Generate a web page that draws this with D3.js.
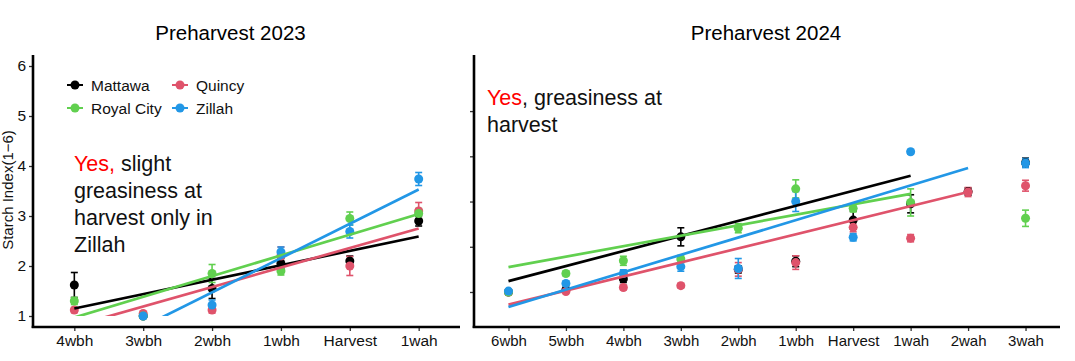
<!DOCTYPE html>
<html><head><meta charset="utf-8">
<script src="https://cdn.jsdelivr.net/npm/d3@7"></script>
<style>body{margin:0;background:#fff} svg{display:block;font-family:"Liberation Sans",Arial,sans-serif}</style>
</head><body><svg id="c" width="1075" height="361"></svg>
<script>
// ---------- data ----------
const sites = ["Mattawa", "Quincy", "Royal City", "Zillah"];
const siteColors = ["#000000", "#DF536B", "#61D04F", "#2297E6"];

const cats2023 = ["4wbh", "3wbh", "2wbh", "1wbh", "Harvest", "1wah"];
const mattawa2023 = [1.62, 1.00, 1.55, 2.05, 2.10, 2.90];
const mattawa2023se = [0.25, 0.03, 0.20, 0.10, 0.10, 0.10];
const quincy2023 = [1.12, 1.05, 1.12, 2.20, 2.00, 3.10];
const quincy2023se = [0.05, 0.04, 0.06, 0.18, 0.19, 0.17];
const royal2023 = [1.30, 1.00, 1.85, 1.90, 2.95, 3.05];
const royal2023se = [0.07, 0.03, 0.18, 0.08, 0.13, 0.10];
const zillah2023 = [null, 1.00, 1.22, 2.28, 2.69, 3.74];
const zillah2023se = [0, 0.03, 0.10, 0.10, 0.13, 0.13];
// linear fits: [start category, value, end category, value]
const fitMattawa2023 = ["4wbh", 1.15, "1wah", 2.59];
const fitQuincy2023 = ["4wbh", 0.80, "1wah", 2.75];
const fitRoyal2023 = ["4wbh", 0.97, "1wah", 3.04];
const fitZillah2023 = ["4wbh", 0.10, "1wah", 3.53];

const cats2024 = ["6wbh", "5wbh", "4wbh", "3wbh", "2wbh", "1wbh", "Harvest", "1wah", "2wah", "3wah"];
const mattawa2024 = [1.00, 1.05, 1.29, 2.22, 1.50, 1.68, 2.59, 2.95, 3.22, 3.86];
const mattawa2024se = [0.03, 0.03, 0.08, 0.20, 0.08, 0.12, 0.20, 0.20, 0.08, 0.10];
const quincy2024 = [1.00, 1.01, 1.10, 1.14, 1.50, 1.65, 2.43, 2.19, 3.21, 3.35];
const quincy2024se = [0.03, 0.03, 0.05, 0.05, 0.15, 0.15, 0.10, 0.08, 0.10, 0.12];
const royal2024 = [1.00, 1.41, 1.69, 1.73, 2.41, 3.28, 2.85, 2.98, null, 2.63];
const royal2024se = [0.03, 0.05, 0.10, 0.08, 0.10, 0.20, 0.08, 0.30, 0, 0.18];
const zillah2024 = [1.02, 1.19, 1.41, 1.56, 1.52, 3.00, 2.21, 4.10, null, 3.85];
const zillah2024se = [0.03, 0.05, 0.08, 0.10, 0.22, 0.22, 0.08, 0.05, 0, 0.10];
const fitMattawa2024 = ["6wbh", 1.24, "1wah", 3.57];
const fitQuincy2024 = ["6wbh", 0.72, "2wah", 3.21];
const fitRoyal2024 = ["6wbh", 1.55, "1wah", 3.17];
const fitZillah2024 = ["6wbh", 0.67, "2wah", 3.74];

const yTicks2023 = [1, 2, 3, 4, 5, 6];
const yTicks2024 = [1, 2, 3, 4, 5];

// ---------- drawing ----------
const svg = d3.select("#c");
const defs = svg.append("defs");

function panel(opt) {
  const x = d3.scalePoint().domain(opt.cats).range(opt.xr).padding(0.6);
  const y = d3.scaleLinear().domain(opt.yd).range([327, 55]);
  const g = svg.append("g");

  svg.append("text").attr("x", (opt.xr[0] + opt.xr[1]) / 2 + opt.titleDx).attr("y", 40)
    .attr("text-anchor", "middle").attr("font-size", 20.5).attr("fill", "#000").text(opt.title);

  const ya = d3.axisLeft(y).tickValues(opt.yTicks).tickSize(4).tickPadding(3)
    .tickFormat(opt.yLabels ? d3.format("d") : () => "");
  const yg = g.append("g").attr("transform", `translate(${opt.xr[0]},0)`).call(ya);
  const xa = d3.axisBottom(x).tickSize(4).tickPadding(4);
  const xg = g.append("g").attr("transform", `translate(0,327)`).call(xa);
  [xg, yg].forEach(a => {
    a.select(".domain").remove();
    a.selectAll(".tick line").attr("stroke", "#333").attr("stroke-width", 1.3);
    a.selectAll("text").attr("fill", "#111").attr("font-family", '"Liberation Sans",Arial,sans-serif');
  });
  yg.selectAll("text").attr("font-size", 15.5);
  xg.selectAll("text").attr("font-size", opt.xFont);
  g.append("line").attr("x1", opt.xr[0]).attr("x2", opt.xr[0]).attr("y1", 55).attr("y2", 328)
    .attr("stroke", "#000").attr("stroke-width", 2.6);
  g.append("line").attr("x1", opt.xr[0] - 1.3).attr("x2", opt.xr[1]).attr("y1", 327).attr("y2", 327)
    .attr("stroke", "#000").attr("stroke-width", 2.6);

  opt.series.forEach((s, i) => {
    const col = siteColors[i];
    s.vals.forEach((v, j) => {
      if (v == null) return;
      const cx = x(opt.cats[j]), se = s.se[j];
      if (se > 0.04) {
        const y1 = y(v - se), y2 = y(v + se);
        g.append("line").attr("x1", cx).attr("x2", cx).attr("y1", y1).attr("y2", y2)
          .attr("stroke", col).attr("stroke-width", 1.6);
        [y1, y2].forEach(yy => g.append("line").attr("x1", cx - 3.5).attr("x2", cx + 3.5)
          .attr("y1", yy).attr("y2", yy).attr("stroke", col).attr("stroke-width", 1.6));
      }
    });
  });
  opt.series.forEach((s, i) => {
    const col = siteColors[i];
    s.vals.forEach((v, j) => {
      if (v == null) return;
      g.append("circle").attr("cx", x(opt.cats[j])).attr("cy", y(v)).attr("r", 4.5).attr("fill", col);
    });
  });
  const clipId = "clip" + opt.title.replace(/\W/g, "");
  defs.append("clipPath").attr("id", clipId).append("rect")
    .attr("x", opt.xr[0]).attr("y", 50).attr("width", opt.xr[1] - opt.xr[0])
    .attr("height", y(opt.clipMin) - 50);
  const fg = g.append("g").attr("clip-path", `url(#${clipId})`);
  opt.fits.forEach((f, i) => {
    fg.append("line").attr("x1", x(f[0])).attr("y1", y(f[1])).attr("x2", x(f[2])).attr("y2", y(f[3]))
      .attr("stroke", siteColors[i]).attr("stroke-width", 2.7);
  });
  return { x, y };
}

panel({
  title: "Preharvest 2023", titleDx: -16, cats: cats2023, xr: [33, 460], yd: [0.78, 6.22],
  yTicks: yTicks2023, yLabels: true, xFont: 15.5, clipMin: 1,
  series: [
    { vals: mattawa2023, se: mattawa2023se }, { vals: quincy2023, se: quincy2023se },
    { vals: royal2023, se: royal2023se }, { vals: zillah2023, se: zillah2023se }],
  fits: [fitMattawa2023, fitQuincy2023, fitRoyal2023, fitZillah2023]
});
panel({
  title: "Preharvest 2024", titleDx: -1, cats: cats2024, xr: [474, 1060], yd: [0.226, 6.24],
  yTicks: yTicks2024, yLabels: false, xFont: 15, clipMin: 0.226,
  series: [
    { vals: mattawa2024, se: mattawa2024se }, { vals: quincy2024, se: quincy2024se },
    { vals: royal2024, se: royal2024se }, { vals: zillah2024, se: zillah2024se }],
  fits: [fitMattawa2024, fitQuincy2024, fitRoyal2024, fitZillah2024]
});

svg.append("text").attr("transform", "translate(13,190) rotate(-90)").attr("text-anchor", "middle")
  .attr("font-size", 15).attr("fill", "#111").text("Starch Index(1\u22126)");

const legPos = [[75, 85], [180, 85], [75, 108], [180, 108]];
sites.forEach((s, i) => {
  const [lx, ly] = legPos[i];
  svg.append("line").attr("x1", lx - 8).attr("x2", lx + 8).attr("y1", ly).attr("y2", ly)
    .attr("stroke", siteColors[i]).attr("stroke-width", 2);
  svg.append("circle").attr("cx", lx).attr("cy", ly).attr("r", 4.5).attr("fill", siteColors[i]);
  svg.append("text").attr("x", lx + 16).attr("y", ly + 5.5).attr("font-size", 15.5).attr("fill", "#111").text(s);
});

const ann1 = [["Yes,", " slight"], ["", "greasiness at"], ["", "harvest only in"], ["", "Zillah"]];
ann1.forEach((l, i) => {
  const t = svg.append("text").attr("x", 74).attr("y", 170.5 + i * 27).attr("font-size", 21.5).attr("fill", "#111");
  if (l[0]) t.append("tspan").attr("fill", "#FF0000").text(l[0]);
  t.append("tspan").attr("style", "white-space:pre").text(l[1]);
});
const ann2 = [["Yes", ", greasiness at"], ["", "harvest"]];
ann2.forEach((l, i) => {
  const t = svg.append("text").attr("x", 487).attr("y", 104.5 + i * 27).attr("font-size", 21.5).attr("fill", "#111");
  if (l[0]) t.append("tspan").attr("fill", "#FF0000").text(l[0]);
  t.append("tspan").attr("style", "white-space:pre").text(l[1]);
});
</script></body></html>
